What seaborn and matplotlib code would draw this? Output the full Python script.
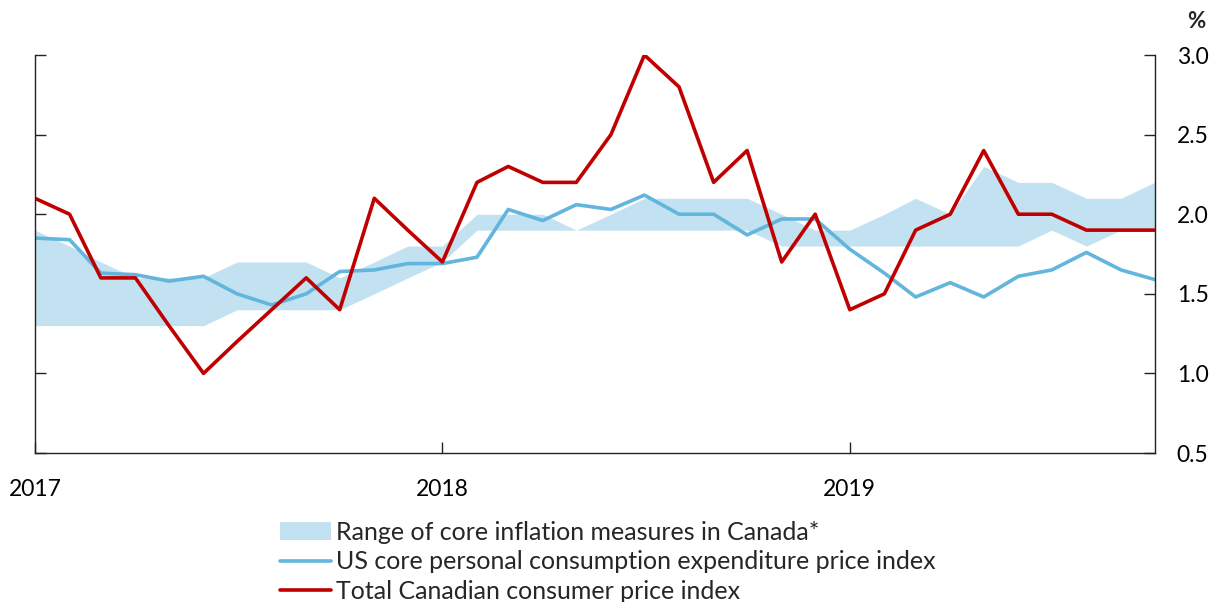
import pandas as pd
import matplotlib
matplotlib.use("Agg")
import matplotlib.pyplot as plt
import matplotlib.dates as mdates
from matplotlib.patches import Patch
from matplotlib.lines import Line2D
import seaborn as sns

# Monthly data, Jan 2017 - Oct 2019
months = pd.date_range("2017-01-01", "2019-10-01", freq="MS")

core_low = [1.3, 1.3, 1.3, 1.3, 1.3, 1.3, 1.4, 1.4, 1.4, 1.4, 1.5, 1.6,
            1.7, 1.9, 1.9, 1.9, 1.9, 1.9, 1.9, 1.9, 1.9, 1.9, 1.8, 1.8,
            1.8, 1.8, 1.8, 1.8, 1.8, 1.8, 1.9, 1.8, 1.9, 1.9]
core_high = [1.9, 1.8, 1.7, 1.6, 1.6, 1.6, 1.7, 1.7, 1.7, 1.6, 1.7, 1.8,
             1.8, 2.0, 2.0, 2.0, 1.9, 2.0, 2.1, 2.1, 2.1, 2.1, 2.0, 1.9,
             1.9, 2.0, 2.1, 2.0, 2.3, 2.2, 2.2, 2.1, 2.1, 2.2]
us_core_pce = [1.85, 1.84, 1.63, 1.62, 1.58, 1.61, 1.50, 1.43, 1.50, 1.64, 1.65, 1.69,
               1.69, 1.73, 2.03, 1.96, 2.06, 2.03, 2.12, 2.00, 2.00, 1.87, 1.97, 1.97,
               1.78, 1.63, 1.48, 1.57, 1.48, 1.61, 1.65, 1.76, 1.65, 1.59]
canada_cpi = [2.1, 2.0, 1.6, 1.6, 1.3, 1.0, 1.2, 1.4, 1.6, 1.4, 2.1, 1.9,
              1.7, 2.2, 2.3, 2.2, 2.2, 2.5, 3.0, 2.8, 2.2, 2.4, 1.7, 2.0,
              1.4, 1.5, 1.9, 2.0, 2.4, 2.0, 2.0, 1.9, 1.9, 1.9]

labels = ["Range of core inflation measures in Canada*",
          "US core personal consumption expenditure price index",
          "Total Canadian consumer price index"]

df = pd.DataFrame({"date": months, "low": core_low, "high": core_high,
                   "us": us_core_pce, "cpi": canada_cpi})

sns.set_style("white")
plt.rcParams["font.family"] = ["Lato", "DejaVu Sans"]

band_color = "#c3e2f1"
blue = "#62b5dd"
red = "#c00000"

fig, ax = plt.subplots(figsize=(12.23, 6.02), dpi=100)
fig.subplots_adjust(left=0.0286, right=0.944, top=0.9086, bottom=0.2475)

ax.fill_between(df["date"], df["low"], df["high"], color=band_color, linewidth=0)
sns.lineplot(data=df, x="date", y="us", ax=ax, color=blue, linewidth=2.6)
sns.lineplot(data=df, x="date", y="cpi", ax=ax, color=red, linewidth=2.6)

ax.set_xlim(months[0], months[-1])
ax.set_ylim(0.5, 3.0)
ax.set_yticks([0.5, 1.0, 1.5, 2.0, 2.5, 3.0])
ax.set_xticks(pd.to_datetime(["2017-01-01", "2018-01-01", "2019-01-01"]))
ax.xaxis.set_major_formatter(mdates.DateFormatter("%Y"))
ax.set_xlabel("")
ax.set_ylabel("")

for side in ["left", "right", "bottom"]:
    ax.spines[side].set_visible(True)
    ax.spines[side].set_color("#222222")
    ax.spines[side].set_linewidth(1.0)
ax.spines["top"].set_visible(False)

ax.tick_params(axis="y", which="major", direction="in", length=8, width=1,
               left=True, right=True, labelleft=False, labelright=True,
               labelsize=16.5, pad=16, colors="#222222", labelcolor="black")
ax.tick_params(axis="x", which="major", direction="in", length=8, width=1,
               bottom=True, labelsize=16.5, pad=19, colors="#222222", labelcolor="black")
for lbl in ax.get_yticklabels():
    lbl.set_horizontalalignment("left")

fig.text(0.978, 0.965, "%", fontsize=16, fontweight="bold", ha="center", va="center")

handles = [Patch(facecolor=band_color, edgecolor="none"),
           Line2D([0], [0], color=blue, linewidth=2.6),
           Line2D([0], [0], color=red, linewidth=2.6)]
fig.legend(handles, labels, loc="upper left", bbox_to_anchor=(0.229, 0.135),
           frameon=False, fontsize=18, handlelength=2.05, handletextpad=0.2,
           labelspacing=0.27, borderpad=0, borderaxespad=0)

fig.savefig("out.png", dpi=100)
